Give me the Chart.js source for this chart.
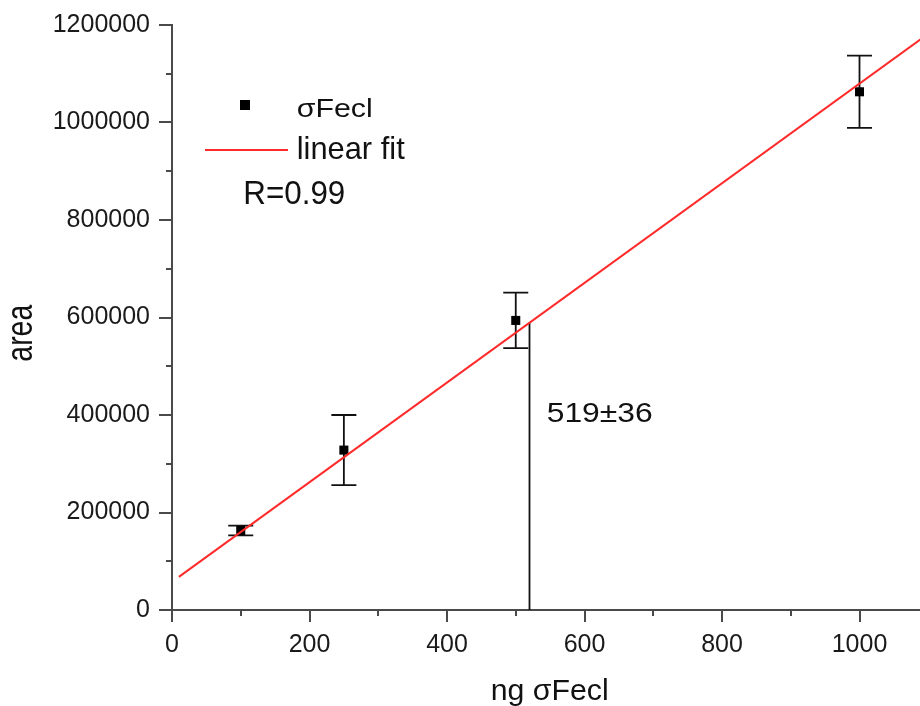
<!DOCTYPE html>
<html>
<head>
<meta charset="utf-8">
<script src="https://cdn.jsdelivr.net/npm/chart.js@4.4.1/dist/chart.umd.min.js"></script>
<style>
  html, body { margin: 0; padding: 0; background: #fff; }
  #wrap { width: 920px; height: 706px; }
</style>
</head>
<body>
<div id="wrap"><canvas id="c" width="920" height="706"></canvas></div>
<script>
// ---- data ----
const xVals = [100, 250, 500, 1000];                 // ng σFecl
const yVals = [163000, 328000, 594000, 1063000];     // area
const yErr  = [10000, 72000, 57000, 74000];          // error bar half-length
const fitX  = [10, 1090];                            // linear fit end points
const fitY  = [68000, 1172000];
const calX  = [520, 520];                            // read-off line for the unknown
const calY  = [0, 589000];
const xTickVals  = [0, 200, 400, 600, 800, 1000];
const yTickVals  = [0, 200000, 400000, 600000, 800000, 1000000, 1200000];
const xMinorVals = [100, 300, 500, 700, 900];
const yMinorVals = [100000, 300000, 500000, 700000, 900000, 1100000];
const seriesName = 'σFecl';
const fitName = 'linear fit';
const rText = 'R=0.99';
const calText = '519±36';
const xTitle = 'ng σFecl';
const yTitle = 'area';

const FONT = '"Liberation Sans", Arial, Helvetica, sans-serif';
const AXIS_COL = '#4a4a4a';

function fitText(ctx, text, x, y, px, w) {
  ctx.save();
  ctx.font = px + 'px ' + FONT;
  const m = ctx.measureText(text).width;
  ctx.translate(x, y);
  ctx.scale(w / m, 1);
  ctx.textAlign = 'left';
  ctx.textBaseline = 'alphabetic';
  ctx.fillStyle = '#111';
  ctx.fillText(text, 0, 0);
  ctx.restore();
}

const decor = {
  id: 'decor',
  beforeDatasetsDraw(chart) {
    const ctx = chart.ctx, xs = chart.scales.x, ys = chart.scales.y;
    ctx.save();
    ctx.strokeStyle = '#111';
    ctx.lineWidth = 1.8;
    for (let i = 0; i < xVals.length; i++) {
      const px = xs.getPixelForValue(xVals[i]);
      const top = ys.getPixelForValue(yVals[i] + yErr[i]);
      const bot = ys.getPixelForValue(yVals[i] - yErr[i]);
      ctx.beginPath();
      ctx.moveTo(px, top); ctx.lineTo(px, bot);
      ctx.moveTo(px - 12.5, top); ctx.lineTo(px + 12.5, top);
      ctx.moveTo(px - 12.5, bot); ctx.lineTo(px + 12.5, bot);
      ctx.stroke();
    }
    ctx.restore();
  },
  afterDraw(chart) {
    const ctx = chart.ctx, xs = chart.scales.x, ys = chart.scales.y;
    const a = chart.chartArea;
    ctx.save();
    // minor ticks
    ctx.strokeStyle = AXIS_COL;
    ctx.lineWidth = 2;
    ctx.beginPath();
    xMinorVals.forEach(v => {
      const p = Math.round(xs.getPixelForValue(v));
      ctx.moveTo(p, a.bottom); ctx.lineTo(p, a.bottom + 6);
    });
    yMinorVals.forEach(v => {
      const p = Math.round(ys.getPixelForValue(v));
      ctx.moveTo(a.left, p); ctx.lineTo(a.left - 6, p);
    });
    ctx.stroke();
    // legend
    ctx.fillStyle = '#000';
    ctx.fillRect(240, 100, 10, 10);
    fitText(ctx, seriesName, 296.7, 117, 26, 76);
    ctx.strokeStyle = '#ff2a2a';
    ctx.lineWidth = 2;
    ctx.beginPath(); ctx.moveTo(205, 150); ctx.lineTo(288, 150); ctx.stroke();
    fitText(ctx, fitName, 296.7, 159.3, 32, 108);
    fitText(ctx, rText, 243.3, 203.7, 32.5, 102);
    // annotation
    fitText(ctx, calText, 546.7, 422, 27, 106);
    // axis titles
    fitText(ctx, xTitle, 490.7, 700, 30, 118);
    ctx.save();
    ctx.translate(31.5, 361.7);
    ctx.rotate(-Math.PI / 2);
    fitText(ctx, yTitle, 0, 0, 36, 57);
    ctx.restore();
    ctx.restore();
  }
};

new Chart(document.getElementById('c'), {
  type: 'scatter',
  data: {
    datasets: [
      {
        label: seriesName,
        data: xVals.map((x, i) => ({ x: x, y: yVals[i] })),
        pointStyle: 'rect',
        pointRadius: 6.4,
        pointBackgroundColor: '#000',
        pointBorderColor: '#000',
        pointBorderWidth: 0,
        order: 2
      },
      {
        type: 'line',
        label: fitName,
        data: fitX.map((x, i) => ({ x: x, y: fitY[i] })),
        borderColor: '#ff2a2a',
        borderWidth: 2,
        pointRadius: 0,
        fill: false,
        order: 0
      },
      {
        type: 'line',
        label: 'cal',
        data: calX.map((x, i) => ({ x: x, y: calY[i] })),
        borderColor: '#111',
        borderWidth: 1.8,
        pointRadius: 0,
        fill: false,
        order: 1
      }
    ]
  },
  options: {
    responsive: false,
    animation: false,
    devicePixelRatio: 1,
    layout: { autoPadding: false, padding: { left: 0, top: 25, right: 0, bottom: 0 } },
    plugins: { legend: { display: false }, tooltip: { enabled: false } },
    scales: {
      x: {
        type: 'linear',
        min: 0, max: 1088,
        afterFit: s => { s.height = 96; s.paddingRight = 0; s.paddingLeft = 0; },
        afterBuildTicks: s => { s.ticks = xTickVals.map(v => ({ value: v })); },
        grid: { drawOnChartArea: false, drawTicks: true, tickLength: 12, color: AXIS_COL, lineWidth: 2 },
        border: { display: true, color: AXIS_COL, width: 2 },
        ticks: { color: '#1a1a1a', font: { family: FONT, size: 25 }, padding: 8, maxRotation: 0, autoSkip: false,
                 callback: v => String(v) },
        title: { display: false }
      },
      y: {
        type: 'linear',
        min: 0, max: 1200000,
        afterFit: s => { s.width = 172; },
        afterBuildTicks: s => { s.ticks = yTickVals.map(v => ({ value: v })); },
        grid: { drawOnChartArea: false, drawTicks: true, tickLength: 13, color: AXIS_COL, lineWidth: 2 },
        border: { display: true, color: AXIS_COL, width: 2 },
        ticks: { color: '#1a1a1a', font: { family: FONT, size: 25 }, padding: 9, autoSkip: false,
                 callback: v => String(v) },
        title: { display: false }
      }
    }
  },
  plugins: [decor]
});
</script>
</body>
</html>
